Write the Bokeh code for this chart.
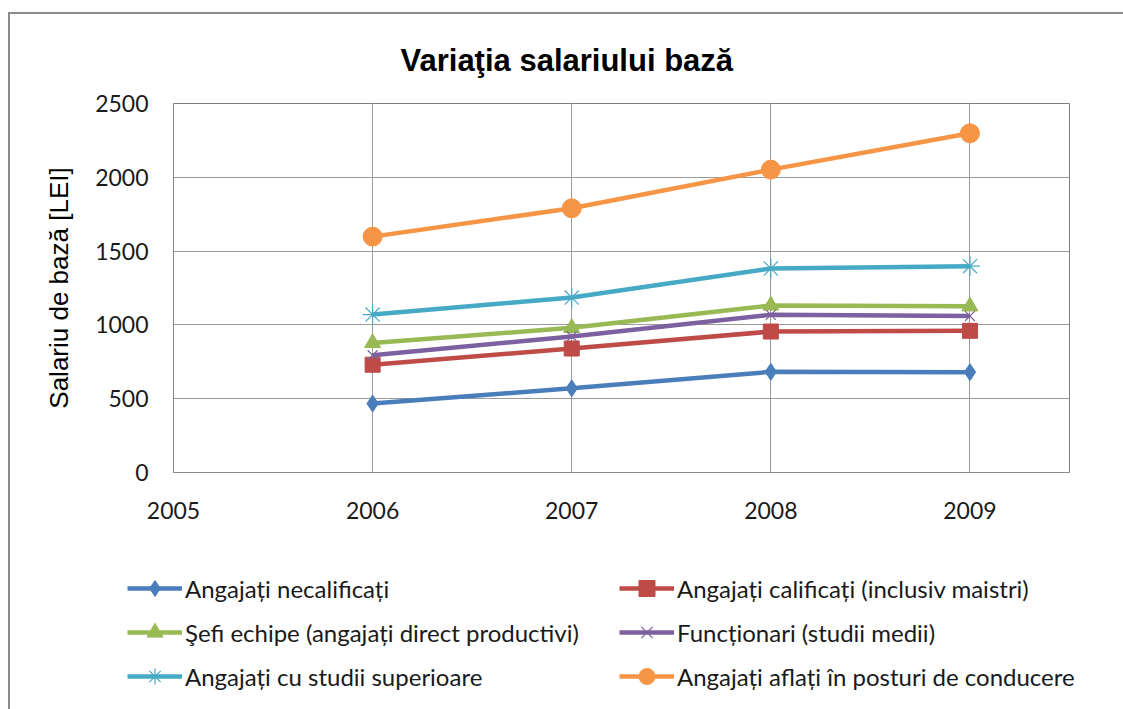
from bokeh.plotting import figure
from bokeh.models import (Range1d, FixedTicker, Legend, LegendItem)
from bokeh.layouts import column
from bokeh.embed import file_html
from bokeh.resources import INLINE

# ---------------- data ----------------
years = [2006, 2007, 2008, 2009]
x_ticks = [2005, 2006, 2007, 2008, 2009]
y_ticks = [0, 500, 1000, 1500, 2000, 2500]

names = [
    "Angajați necalificați",
    "Angajați calificați (inclusiv maistri)",
    "Şefi echipe (angajați direct productivi)",
    "Funcționari (studii medii)",
    "Angajați cu studii superioare",
    "Angajați aflați în posturi de conducere",
]
necalificati = [467, 570, 682, 680]
calificati = [730, 840, 955, 960]
sefi_echipe = [878, 980, 1132, 1126]
functionari = [795, 922, 1068, 1060]
superioare = [1070, 1185, 1382, 1398]
conducere = [1598, 1790, 2052, 2298]
series = [necalificati, calificati, sefi_echipe, functionari, superioare, conducere]

title_text = "Variaţia salariului bază"
y_label = "Salariu de bază [LEI]"

# ---------------- styles ----------------
colors = ["#4A7EBB", "#BE4B48", "#98B954", "#7D60A0", "#46AAC5", "#F69546"]
markers = ["diamond", "square", "triangle", "x", "asterisk", "circle"]
msizes = [17, 15, 16, 14, 20, 19]

# content starts at page (10, 14) because of the wrapper's margin + border
FL, FT, FW, FH = 163, 89, 896, 369
p = figure(frame_width=FW, frame_height=FH,
           min_border_left=FL, min_border_top=FT, min_border_right=54, min_border_bottom=80,
           x_range=Range1d(2005, 2009.5), y_range=Range1d(0, 2500),
           output_backend="svg", toolbar_location=None)
p.frame_align = False
p.background_fill_color = "white"
p.border_fill_color = "white"
p.outline_line_color = "#7f7f7f"
p.outline_line_width = 1

p.title.text = title_text
p.title.align = "left"
p.title.offset = 227
p.title.standoff = 52
p.title.text_font = "Liberation Sans"
p.title.text_font_size = "31px"
p.title.text_font_style = "bold"
p.title.text_color = "#000000"

p.xaxis.ticker = FixedTicker(ticks=x_ticks)
p.yaxis.ticker = FixedTicker(ticks=y_ticks)
for ax in (p.xaxis, p.yaxis):
    ax.axis_line_color = "#8a8a8a"
    ax.major_tick_line_color = None
    ax.major_tick_out = 0
    ax.major_tick_in = 0
    ax.minor_tick_line_color = None
    ax.major_label_text_font = "Lato"
    ax.major_label_text_font_size = "23px"
    ax.major_label_text_color = "#1a1a1a"
p.xaxis.major_label_standoff = 29
p.yaxis.major_label_standoff = 25
p.yaxis.axis_label = y_label
p.yaxis.axis_label_text_font = "Liberation Sans"
p.yaxis.axis_label_text_font_size = "26px"
p.yaxis.axis_label_text_font_style = "normal"
p.yaxis.axis_label_text_color = "#000000"
p.yaxis.axis_label_standoff = 18

p.xgrid.ticker = FixedTicker(ticks=x_ticks)
p.ygrid.ticker = FixedTicker(ticks=y_ticks)
p.xgrid.grid_line_color = "#9a9a9a"
p.ygrid.grid_line_color = "#9a9a9a"

# legend strip below the chart (its own renderers sit outside its visible y range)
p2 = figure(width=FL + FW + 54, height=157, min_border=0,
            x_range=p.x_range, y_range=Range1d(5000, 6000),
            output_backend="svg", toolbar_location=None)
p2.frame_align = False
p2.axis.visible = False
p2.grid.visible = False
p2.outline_line_color = None
p2.background_fill_color = "white"
p2.border_fill_color = "white"

items = []
for name, vals, c, m, s in zip(names, series, colors, markers, msizes):
    p.line(years, vals, line_color=c, line_width=4.5, line_join="round")
    ll = p2.line(years, vals, line_color=c, line_width=4.5)
    if m in ("x", "asterisk"):
        p.scatter(years, vals, marker=m, size=s, line_color=c, line_width=1.2)
        lk = p2.scatter(years, vals, marker=m, size=s, line_color=c, line_width=1.2)
    else:
        p.scatter(years, vals, marker=m, size=s, fill_color=c, line_color=c)
        lk = p2.scatter(years, vals, marker=m, size=s, fill_color=c, line_color=c)
    items.append(LegendItem(label=name, renderers=[ll, lk]))

order = [0, 2, 4, 1, 3, 5]
legend = Legend(items=[items[i] for i in order], nrows=3, orientation="vertical",
                location=(117, 13), glyph_width=55, glyph_height=40, label_height=40,
                label_width=430, spacing=4, padding=5, label_standoff=3, margin=0,
                label_text_font="Lato", label_text_font_size="24px",
                label_text_color="#1a1a1a", border_line_color=None,
                background_fill_alpha=0)
p2.add_layout(legend, "center")

layout = column(p, p2, spacing=0,
                styles={"margin-left": "8px", "margin-top": "12px",
                        "border-left": "2px solid #8c8c8c", "border-top": "2px solid #8c8c8c"})

open("out.html", "w").write(file_html(layout, INLINE))
